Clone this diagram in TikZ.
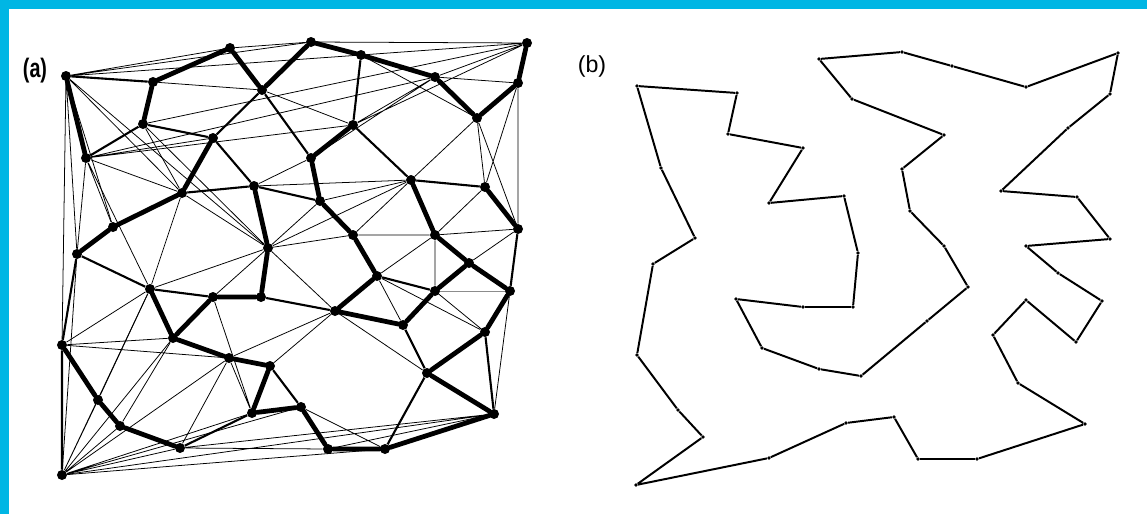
\documentclass[tikz,border=0pt]{standalone}
\usepackage{fontspec}
\newfontfamily\labfont{Liberation Sans}
\definecolor{framecyan}{RGB}{0,182,228}
\begin{document}
\begin{tikzpicture}[x=0.025cm,y=-0.025cm,
  dotA/.style={circle,fill=black,inner sep=0pt,minimum size=0.25cm},
  dotB/.style={circle,fill=black,inner sep=0pt,minimum size=0.09cm},
  tour/.style={line width=3.4pt,line cap=round,line join=round},
  link/.style={line width=1.5pt},
  cand/.style={line width=0.55pt},
  route/.style={line width=1.4pt,line join=round}]
\useasboundingbox (0,0) rectangle (1147,514);
\fill[framecyan] (0,0) rectangle (1147,514);
\fill[white] (9,9) rectangle (1147,514);

% labels
\node[font=\labfont\bfseries\fontsize{19}{19}\selectfont] (labA) at (35,71) {\scalebox{0.74}[1]{(a)}};
\node[font=\labfont\fontsize{16.5}{16.5}\selectfont] (labB) at (592,66) {(b)};

% panel (a): points
\node[dotA] (a1) at (66,76) {};
\node[dotA] (a2) at (230,48) {};
\node[dotA] (a3) at (153,82) {};
\node[dotA] (a4) at (262,90) {};
\node[dotA] (a5) at (143,124) {};
\node[dotA] (a6) at (213,138) {};
\node[dotA] (a7) at (86,158) {};
\node[dotA] (a8) at (182,193) {};
\node[dotA] (a9) at (254,186) {};
\node[dotA] (a10) at (113,227) {};
\node[dotA] (a11) at (268,248) {};
\node[dotA] (a12) at (77,254) {};
\node[dotA] (a13) at (311,42) {};
\node[dotA] (a14) at (361,55) {};
\node[dotA] (a15) at (435,77) {};
\node[dotA] (a16) at (527,43) {};
\node[dotA] (a17) at (518,83) {};
\node[dotA] (a18) at (477,118) {};
\node[dotA] (a19) at (353,125) {};
\node[dotA] (a20) at (311,158) {};
\node[dotA] (a21) at (320,201) {};
\node[dotA] (a22) at (411,180) {};
\node[dotA] (a23) at (485,187) {};
\node[dotA] (a24) at (518,229) {};
\node[dotA] (a25) at (353,235) {};
\node[dotA] (a26) at (435,235) {};
\node[dotA] (a27) at (150,289) {};
\node[dotA] (a28) at (213,297) {};
\node[dotA] (a29) at (261,297) {};
\node[dotA] (a30) at (173,338) {};
\node[dotA] (a31) at (62,345) {};
\node[dotA] (a32) at (229,358) {};
\node[dotA] (a33) at (270,366) {};
\node[dotA] (a34) at (98,400) {};
\node[dotA] (a35) at (120,426) {};
\node[dotA] (a36) at (252,413) {};
\node[dotA] (a37) at (301,407) {};
\node[dotA] (a38) at (180,448) {};
\node[dotA] (a39) at (62,475) {};
\node[dotA] (a40) at (377,276) {};
\node[dotA] (a41) at (469,263) {};
\node[dotA] (a42) at (435,291) {};
\node[dotA] (a43) at (510,291) {};
\node[dotA] (a44) at (335,311) {};
\node[dotA] (a45) at (403,325) {};
\node[dotA] (a46) at (485,332) {};
\node[dotA] (a47) at (427,373) {};
\node[dotA] (a48) at (494,414) {};
\node[dotA] (a49) at (328,449) {};
\node[dotA] (a50) at (385,449) {};

% thin candidate lines
\draw[cand] (a1)--(a2) (a1)--(a13) (a1)--(a14) (a1)--(a31) (a1)--(a12) (a1)--(a8) (a1)--(a11) (a1)--(a10);
\draw[cand] (a2)--(a13) (a3)--(a4) (a4)--(a19);
\draw[cand] (a7)--(a6) (a7)--(a15) (a7)--(a19) (a7)--(a8) (a7)--(a12) (a7)--(a10) (a7)--(a27);
\draw[cand] (a5)--(a8) (a5)--(a11) (a5)--(a16) (a8)--(a11) (a8)--(a27);
\draw[cand] (a9)--(a20) (a9)--(a22);
\draw[cand] (a11)--(a21) (a11)--(a25) (a11)--(a22) (a11)--(a28) (a11)--(a27) (a11)--(a44);
\draw[cand] (a12)--(a39);
\draw[cand] (a13)--(a16) (a14)--(a16) (a14)--(a18) (a15)--(a16) (a15)--(a17) (a15)--(a19) (a15)--(a20) (a16)--(a19);
\draw[cand] (a17)--(a23) (a18)--(a23) (a18)--(a24) (a17)--(a24) (a18)--(a22);
\draw[cand] (a21)--(a22) (a22)--(a25) (a25)--(a26) (a26)--(a23) (a26)--(a24) (a24)--(a41);
\draw[cand] (a26)--(a40) (a26)--(a42) (a40)--(a45) (a40)--(a46) (a42)--(a46) (a43)--(a48);
\draw[cand,black!45] (a42)--(a43);
\draw[cand] (a44)--(a47) (a44)--(a33) (a44)--(a32);
\draw[cand] (a37)--(a50) (a48)--(a38) (a48)--(a39) (a48)--(a49) (a38)--(a49);
\draw[cand] (a39)--(a34) (a39)--(a35) (a39)--(a38) (a39)--(a30) (a39)--(a27) (a39)--(a32) (a39)--(a36) (a39)--(a37) (a39)--(a50);
\draw[cand] (a31)--(a30) (a31)--(a32) (a31)--(a27) (a34)--(a27) (a35)--(a30) (a38)--(a32) (a36)--(a28) (a36)--(a32);

% medium links
\draw[link] (a1)--(a3) (a5)--(a7) (a5)--(a6) (a6)--(a9) (a4)--(a6) (a8)--(a9) (a4)--(a20) (a9)--(a21);
\draw[link] (a14)--(a19) (a19)--(a22) (a22)--(a23) (a24)--(a43) (a40)--(a42) (a44)--(a29);
\draw[link] (a45)--(a47) (a47)--(a50) (a46)--(a48) (a38)--(a36) (a33)--(a37);
\draw[link] (a12)--(a31) (a12)--(a27) (a27)--(a28) (a31)--(a39);

% thick tour
\draw[tour] (a1)--(a7);
\draw[tour] (a12)--(a10)--(a8)--(a6);
\draw[tour] (a5)--(a3)--(a2)--(a4)--(a13)--(a14)--(a15)--(a18)--(a17)--(a16);
\draw[tour] (a19)--(a20)--(a21)--(a25)--(a40)--(a44)--(a45)--(a42)--(a41)--(a43)--(a46)--(a47)--(a48)--(a50)--(a49)--(a37)--(a36)--(a33)--(a32)--(a30)--(a28)--(a29)--(a11)--(a9);
\draw[tour] (a22)--(a26)--(a41);
\draw[tour] (a30)--(a27);
\draw[tour] (a23)--(a24);
\draw[tour] (a31)--(a34)--(a35)--(a38);

% panel (b): points
\node[dotB] (b1) at (637,86) {};
\node[dotB] (b2) at (737,93) {};
\node[dotB] (b3) at (728,134) {};
\node[dotB] (b4) at (803,148) {};
\node[dotB] (b5) at (769,203) {};
\node[dotB] (b6) at (844,196) {};
\node[dotB] (b7) at (858,253) {};
\node[dotB] (b8) at (853,307) {};
\node[dotB] (b9) at (803,307) {};
\node[dotB] (b10) at (736,299) {};
\node[dotB] (b11) at (762,348) {};
\node[dotB] (b12) at (819,369) {};
\node[dotB] (b13) at (861,376) {};
\node[dotB] (b14) at (927,321) {};
\node[dotB] (b15) at (968,287) {};
\node[dotB] (b16) at (944,246) {};
\node[dotB] (b17) at (910,211) {};
\node[dotB] (b18) at (902,169) {};
\node[dotB] (b19) at (944,135) {};
\node[dotB] (b20) at (852,99) {};
\node[dotB] (b21) at (819,59) {};
\node[dotB] (b22) at (902,52) {};
\node[dotB] (b23) at (952,66) {};
\node[dotB] (b24) at (1026,87) {};
\node[dotB] (b25) at (1118,53) {};
\node[dotB] (b26) at (1110,94) {};
\node[dotB] (b27) at (1068,128) {};
\node[dotB] (b28) at (1001,191) {};
\node[dotB] (b29) at (1077,197) {};
\node[dotB] (b30) at (1110,239) {};
\node[dotB] (b31) at (1026,246) {};
\node[dotB] (b32) at (1058,273) {};
\node[dotB] (b33) at (1102,301) {};
\node[dotB] (b34) at (1076,342) {};
\node[dotB] (b35) at (1026,300) {};
\node[dotB] (b36) at (993,335) {};
\node[dotB] (b37) at (1018,383) {};
\node[dotB] (b38) at (1085,424) {};
\node[dotB] (b39) at (977,459) {};
\node[dotB] (b40) at (918,459) {};
\node[dotB] (b41) at (894,417) {};
\node[dotB] (b42) at (846,423) {};
\node[dotB] (b43) at (769,458) {};
\node[dotB] (b44) at (636,485) {};
\node[dotB] (b45) at (703,437) {};
\node[dotB] (b46) at (678,410) {};
\node[dotB] (b47) at (637,355) {};
\node[dotB] (b48) at (653,264) {};
\node[dotB] (b49) at (695,238) {};
\node[dotB] (b50) at (661,168) {};

% the closed route
\draw[route] (b1)--(b2)--(b3)--(b4)--(b5)--(b6)--(b7)--(b8)--(b9)--(b10)--(b11)--(b12)--(b13)--(b14)--(b15)--(b16)--(b17)--(b18)--(b19)--(b20)--(b21)--(b22)--(b23)--(b24)--(b25)
  --(b26)--(b27)--(b28)--(b29)--(b30)--(b31)--(b32)--(b33)--(b34)--(b35)--(b36)--(b37)--(b38)--(b39)--(b40)--(b41)--(b42)--(b43)--(b44)--(b45)--(b46)--(b47)--(b48)--(b49)--(b50)--(b1);
\end{tikzpicture}
\end{document}
